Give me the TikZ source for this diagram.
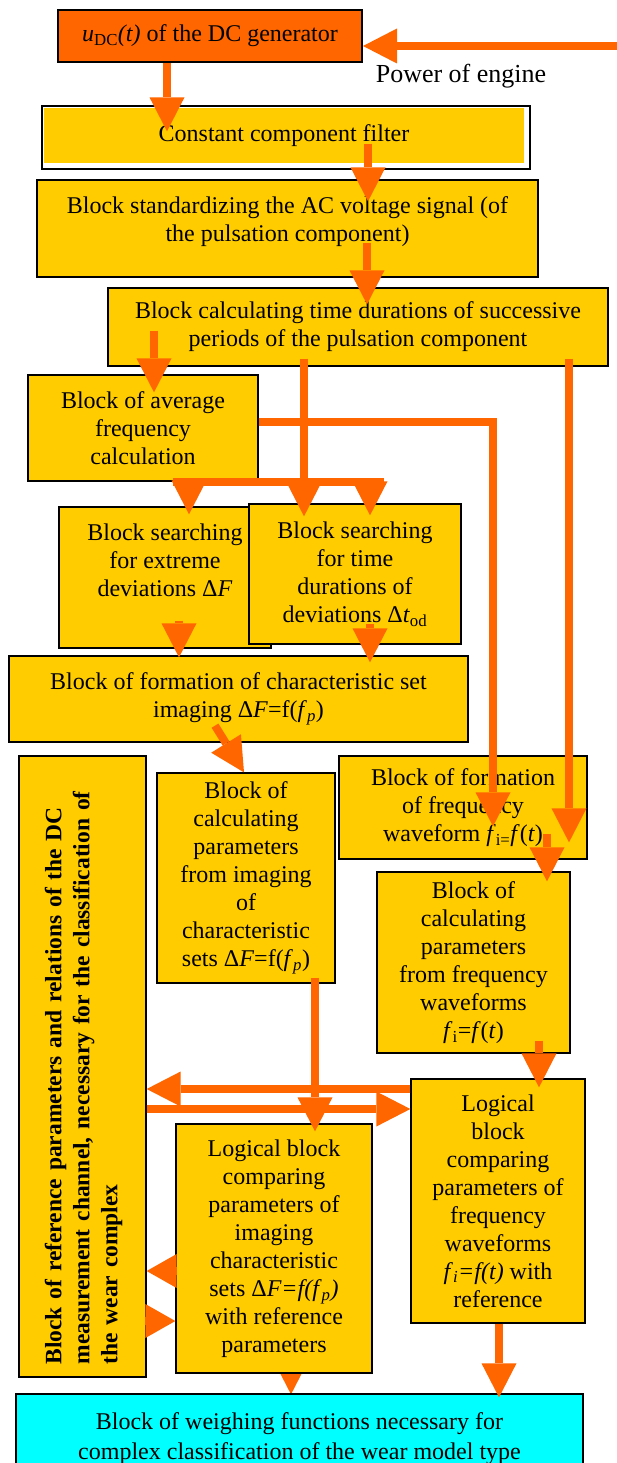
\documentclass[tikz,border=0pt]{standalone}
\usepackage{fontspec}
\setmainfont{Liberation Serif}
\usetikzlibrary{arrows.meta,calc}
\pgfdeclarelayer{bg}
\pgfsetlayers{bg,main}
\definecolor{org}{HTML}{FF6600}
\definecolor{ylw}{HTML}{FFCC00}
\definecolor{cyn}{HTML}{00FFFF}
\begin{document}
\begin{tikzpicture}[x=1pt,y=-1pt,
  every node/.style={font=\fontsize{24}{28}\selectfont},
  box/.style={draw=black,line width=1.3pt,fill=ylw,inner sep=0pt,align=center},
  arr/.style={draw=org,line width=8pt,-{Triangle[length=34pt,width=35pt,line width=0pt]}},
  hd/.style={draw=org,line width=8pt,-{Triangle[length=30pt,width=34pt,line width=0pt]}},
  ln/.style={draw=org,line width=8pt}]
\useasboundingbox (0,0) rectangle (616,1463);

% boxes
\node[box,fill=org,line width=2pt,minimum width=304pt,minimum height=52pt] (top) at (210,36) {\textit{u}\textsubscript{DC}\textit{(t)} of the DC generator};
\node[font=\fontsize{26}{30}\selectfont,inner sep=0pt] (pw) at (461,76) {Power of engine};
\node[draw=black,line width=1.3pt,fill=white,minimum width=488pt,minimum height=63pt,inner sep=0pt] (filter) at (286,137.5) {};
\node[fill=ylw,minimum width=480pt,minimum height=55pt,inner sep=0pt] (filterin) at (284,135.5) {Constant component filter};
\node[box,minimum width=501pt,minimum height=97pt] (std) at (287.5,228.5) {Block standardizing the AC voltage signal (of\\the pulsation component)\\[-9pt]\mbox{}};
\node[box,minimum width=500pt,minimum height=78pt] (calc) at (358,327) {Block calculating time durations of successive\\periods of the pulsation component};
\node[box,minimum width=230pt,minimum height=106pt] (avg) at (143,428) {Block of average\\frequency\\calculation};
\node[box,minimum width=212pt,minimum height=141pt] (srchF) at (165,577.5) {Block searching\\for extreme\\deviations Δ\textit{F}\\[6pt]\mbox{}};
\node[box,minimum width=212pt,minimum height=140pt] (srchT) at (355,574) {Block searching\\for time\\durations of\\deviations Δ\textit{t}\textsubscript{od}};
\node[box,minimum width=459pt,minimum height=86pt] (form) at (238.5,699) {Block of formation of characteristic set\\imaging Δ\textit{F}=f(\textit{f}\textsubscript{\textit{p}})};
\node[box,minimum width=127pt,minimum height=621pt] (big) at (82.5,1066.5) {};
\node[rotate=90,font=\bfseries\fontsize{23.5}{28}\selectfont,align=left,text width=600pt,inner sep=0pt] (bigtxt) at ($(big.center)+(1,-2)$) {Block of reference parameters and relations of the DC\\measurement channel, necessary for the classification of\\the wear complex};
\node[box,minimum width=178pt,minimum height=210pt] (cimg) at (246,878) {Block of\\calculating\\parameters\\from imaging\\of\\characteristic\\sets Δ\textit{F}=f(\textit{f}\textsubscript{\textit{p}})};
\node[box,minimum width=248pt,minimum height=103pt] (ffreq) at (463,807.5) {Block of formation\\of frequency\\waveform \textit{f}\textsubscript{i=}\textit{f}(\textit{t})};
\node[box,minimum width=193pt,minimum height=181pt] (cfreq) at (473.5,962.5) {Block of\\calculating\\parameters\\from frequency\\waveforms\\\textit{f}\textsubscript{i}=\textit{f}(\textit{t})};
\node[box,minimum width=174pt,minimum height=244pt] (logR) at (498,1201) {Logical\\block\\comparing\\parameters of\\frequency\\waveforms\\\textit{f}\textsubscript{\textit{i}}\textit{=f(t)} with\\reference};
\node[box,minimum width=196pt,minimum height=249pt] (logL) at (274,1248.5) {Logical block\\comparing\\parameters of\\imaging\\characteristic\\sets Δ\textit{F=f(f}\textsubscript{\textit{p}}\textit{)}\\with reference\\parameters};
\node[box,fill=cyn,font=\fontsize{24}{30}\selectfont,minimum width=567pt,minimum height=90pt] (wgt) at (299.5,1439) {Block of weighing functions necessary for\\complex classification of the wear model type};

% connectors
\coordinate (pwsrc) at (640,46);
\draw[arr] (pwsrc) -- (pwsrc -| top.east);
\draw[arr] (top.south -| 167,0) -- ($(filter.north -| 167,0)+(0,26)$);
\draw[arr] ($(filter.south -| 368,0)+(0,-26)$) -- ($(std.north -| 368,0)+(0,22)$);
\draw[arr] ($(std.south -| 367,0)+(0,-35)$) -- ($(calc.north -| 367,0)+(0,17)$);
\draw[arr] ($(calc.south -| 154,0)+(0,-36)$) -- ($(avg.north -| 154,0)+(0,18)$);
\draw[arr] ($(calc.south -| 304,0)+(0,-8)$) -- ($(srchT.north -| 304,0)+(0,13)$);
\draw[arr] ($(calc.south -| 569,0)+(0,-8)$) -- ($(ffreq.north -| 569,0)+(0,87)$);
\draw[arr] (avg.east |- 0,422) -- (493,422) -- ($(ffreq.north -| 493,0)+(0,71)$);
\draw[ln] (avg.south -| 173,0) -- (avg.south -| 384,0);
\draw[arr] (avg.south -| 189,0) -- ($(srchF.north -| 189,0)+(0,8)$);
\draw[arr] (avg.south -| 370,0) -- ($(srchT.north -| 370,0)+(0,12)$);
\draw[arr] ($(srchF.south -| 179,0)+(0,-28)$) -- ($(form.north -| 179,0)+(0,2)$);
\draw[arr] ($(srchT.south -| 370,0)+(0,-21)$) -- ($(form.north -| 370,0)+(0,7)$);
\draw[arr] ($(form.south -| 215,0)+(0,-17)$) -- (cimg.north -| 244,0);
\draw[arr] ($(ffreq.south -| 547,0)+(0,-26)$) -- ($(cfreq.north -| 547,0)+(0,10)$);
\draw[arr] ($(cimg.south -| 315,0)+(0,-6)$) -- ($(logL.north -| 315,0)+(0,8)$);
\draw[arr] ($(cfreq.south -| 539,0)+(0,-13)$) -- ($(logR.north -| 539,0)+(0,9)$);
\draw[arr] (logR.west |- 0,1089) -- (big.east |- 0,1089);
\draw[arr] (big.east |- 0,1109) -- (logR.west |- 0,1109);
\draw[hd] (logL.west |- 0,1271) -- (big.east |- 0,1271);
\draw[hd] (big.east |- 0,1321) -- (logL.west |- 0,1321);
\begin{pgfonlayer}{bg}
\draw[arr] ($(logL.south -| 291,0)+(0,-12)$) -- ($(wgt.north -| 291,0)+(0,1)$);
\end{pgfonlayer}
\draw[arr] (logR.south -| 499,0) -- ($(wgt.north -| 499,0)+(0,4)$);
\end{tikzpicture}
\end{document}
